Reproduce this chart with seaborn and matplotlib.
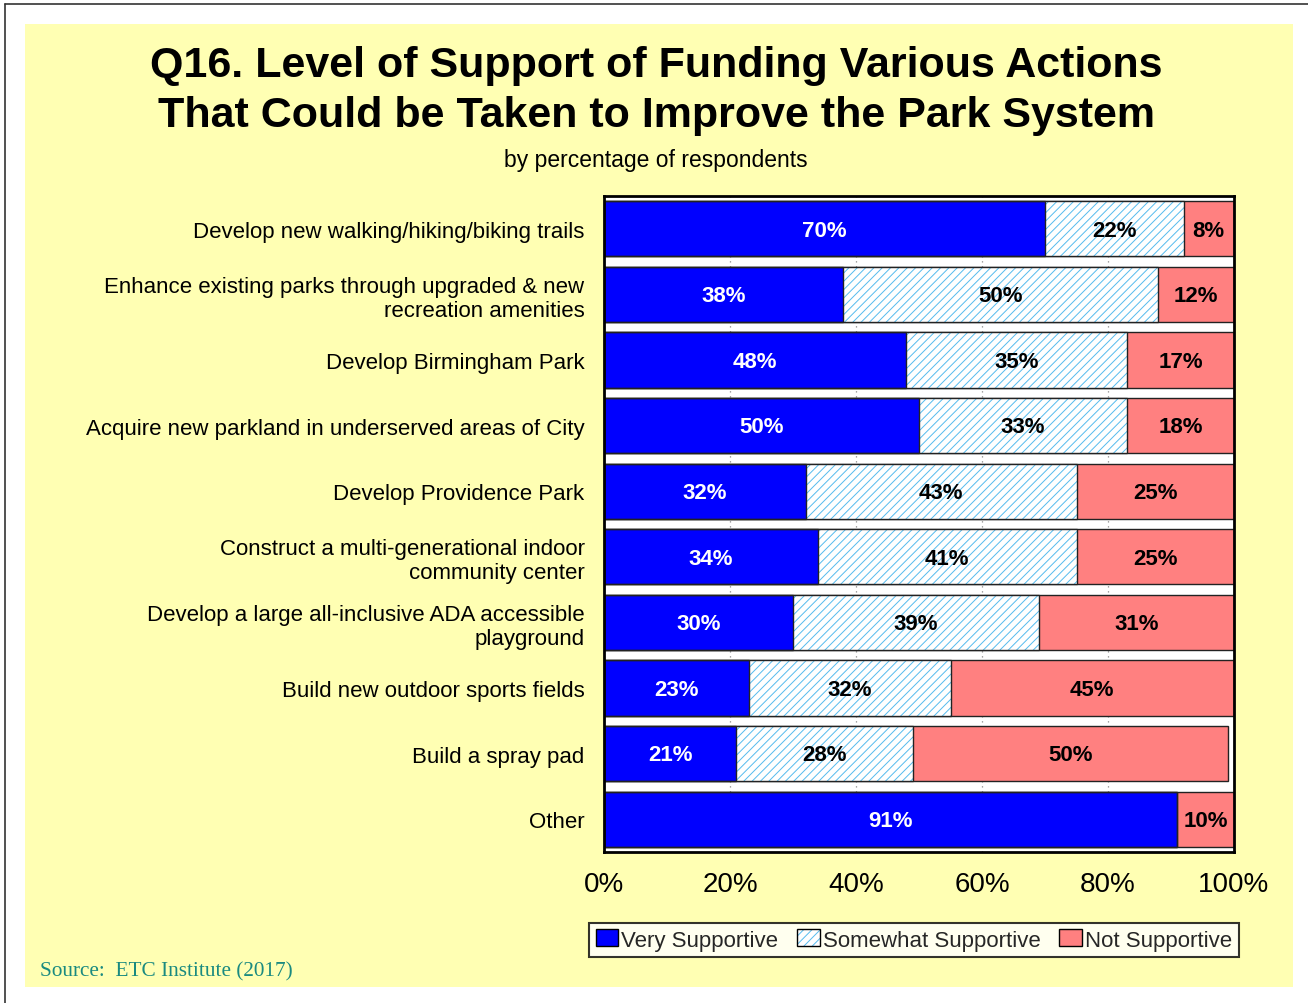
import numpy as np
import pandas as pd
import matplotlib
matplotlib.use("Agg")
import matplotlib.pyplot as plt
from matplotlib.patches import Patch, Rectangle
from matplotlib.lines import Line2D
import seaborn as sns

# Survey results (percent of respondents)
actions = [
    "Develop new walking/hiking/biking trails",
    "Enhance existing parks through upgraded & new\nrecreation amenities",
    "Develop Birmingham Park",
    "Acquire new parkland in underserved areas of City",
    "Develop Providence Park",
    "Construct a multi-generational indoor\ncommunity center",
    "Develop a large all-inclusive ADA accessible\nplayground",
    "Build new outdoor sports fields",
    "Build a spray pad",
    "Other",
]
very_supportive = [70, 38, 48, 50, 32, 34, 30, 23, 21, 91]
somewhat_supportive = [22, 50, 35, 33, 43, 41, 39, 32, 28, 0]
not_supportive = [8, 12, 17, 18, 25, 25, 31, 45, 50, 10]

series_names = ["Very Supportive", "Somewhat Supportive", "Not Supportive"]
xtick_values = [0, 20, 40, 60, 80, 100]
xtick_labels = ["0%", "20%", "40%", "60%", "80%", "100%"]
source_text = "Source:  ETC Institute (2017)"

BLUE = "#0000FF"
HATCH_BLUE = "#55BBEE"
SALMON = "#FF8080"
PANEL = "#FFFFB3"
EDGE = "#222222"

sns.set_theme(style="white")
plt.rcParams["font.family"] = ["Liberation Sans", "DejaVu Sans"]
plt.rcParams["hatch.linewidth"] = 0.7

df = pd.DataFrame({
    "action": actions,
    "very": very_supportive,
    "somewhat": somewhat_supportive,
    "not": not_supportive,
})
df["cum1"] = df["very"]
df["cum2"] = df["very"] + df["somewhat"]
df["cum3"] = df["cum2"] + df["not"]

fig = plt.figure(figsize=(13.08, 10.04), dpi=100)
fig.patch.set_facecolor("white")

# outer frame and yellow panel
fig.add_artist(Line2D([5 / 1308, 5 / 1308], [0, 1 - 5 / 1004], transform=fig.transFigure,
                      color="#333333", lw=1.2))
fig.add_artist(Line2D([5 / 1308, 1], [1 - 5 / 1004, 1 - 5 / 1004], transform=fig.transFigure,
                      color="#333333", lw=1.2))
fig.add_artist(Rectangle((25 / 1308, 16 / 1004), 1268 / 1308, 963 / 1004,
                         transform=fig.transFigure, facecolor=PANEL, edgecolor="none", zorder=0))

ax = fig.add_axes([604 / 1308, 151 / 1004, 630 / 1308, 656 / 1004])
ax.set_facecolor("white")

bar_w = 0.84
# stacked bars drawn as overlapping cumulative layers, widest first
sns.barplot(data=df, x="cum3", y="action", orient="h", color=SALMON, saturation=1,
            width=bar_w, edgecolor=EDGE, linewidth=1.0, ax=ax)
n0 = len(ax.patches)
sns.barplot(data=df, x="cum2", y="action", orient="h", color="white", saturation=1,
            width=bar_w, ax=ax)
hatched = ax.patches[n0:]
sns.barplot(data=df, x="cum1", y="action", orient="h", color=BLUE, saturation=1,
            width=bar_w, edgecolor=EDGE, linewidth=1.0, ax=ax)

for p in hatched:
    p.set_facecolor("white")
    p.set_edgecolor(HATCH_BLUE)
    p.set_linewidth(0)
    p.set_hatch("////")
    ax.add_patch(Rectangle((p.get_x(), p.get_y()), p.get_width(), p.get_height(),
                           fill=False, edgecolor=EDGE, linewidth=1.0, zorder=p.get_zorder()))

# value labels
for i, row in df.iterrows():
    segs = [(0, row["very"], "white"),
            (row["cum1"], row["somewhat"], "black"),
            (row["cum2"], row["not"], "black")]
    for start, val, col in segs:
        if val <= 0:
            continue
        center = start + val / 2
        if start + val > 100:
            center = start + (100 - start) / 2
        ax.text(center, i + 0.02, f"{val}%", ha="center", va="center", color=col,
                fontsize=16, fontweight="bold", zorder=10)

ax.set_xlim(0, 100)
ax.set_ylim(len(actions) - 0.5, -0.5)
ax.set_xticks(xtick_values)
ax.set_xticklabels(xtick_labels, fontsize=20, color="black")
ax.tick_params(axis="x", length=0, pad=14)
ax.tick_params(axis="y", length=0, pad=14, labelsize=16, labelcolor="black")
ax.set_xlabel("")
ax.set_ylabel("")
for lbl in ax.get_yticklabels():
    lbl.set_horizontalalignment("right")
    lbl.set_multialignment("right")
    lbl.set_linespacing(1.2)

ax.xaxis.grid(True, color="#888888", linestyle=(0, (1, 3)), linewidth=0.9)
ax.yaxis.grid(False)
ax.set_axisbelow(True)
for s in ax.spines.values():
    s.set_visible(True)
    s.set_color("black")
    s.set_linewidth(2.0)

# titles
fig.text(0.5016, 1 - 66 / 1004, "Q16. Level of Support of Funding Various Actions",
         ha="center", va="center", fontsize=31, fontweight="bold", color="black")
fig.text(0.5016, 1 - 116 / 1004, "That Could be Taken to Improve the Park System",
         ha="center", va="center", fontsize=31, fontweight="bold", color="black")
fig.text(0.5016, 1 - 161 / 1004, "by percentage of respondents",
         ha="center", va="center", fontsize=16.5, color="black")

# legend
handles = [
    Patch(facecolor=BLUE, edgecolor="black", linewidth=1.0),
    (Patch(facecolor="white", edgecolor=HATCH_BLUE, hatch="////", linewidth=0),
     Patch(facecolor="none", edgecolor="black", linewidth=1.0)),
    Patch(facecolor=SALMON, edgecolor="black", linewidth=1.0),
]
leg = fig.legend(handles, series_names, loc="center", bbox_to_anchor=(914 / 1308, 1 - 941 / 1004),
                 ncol=3, fontsize=16, frameon=True, fancybox=False, edgecolor="black",
                 handlelength=1.0, handleheight=0.8, handletextpad=0.15, columnspacing=0.85,
                 borderpad=0.3, borderaxespad=0)
leg.get_frame().set_linewidth(1.5)
leg.get_frame().set_facecolor("white")

fig.text(40 / 1308, 1 - 972 / 1004, source_text, ha="left", va="center", fontsize=15.3,
         color="#1A8A80", family=["Liberation Serif", "DejaVu Serif"])

fig.savefig("out.png", dpi=100, facecolor=fig.get_facecolor())
